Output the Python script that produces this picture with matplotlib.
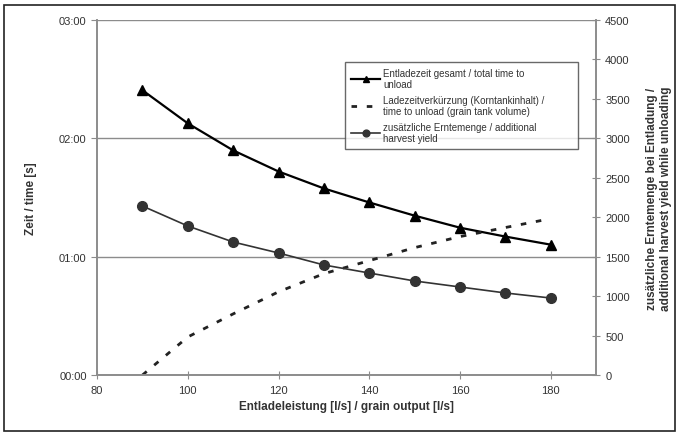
import matplotlib
matplotlib.use("Agg")
import matplotlib.pyplot as plt
from matplotlib.ticker import FuncFormatter, MultipleLocator
from matplotlib.patches import Rectangle

plt.rcParams['font.family'] = ['Liberation Sans', 'DejaVu Sans']

# grain output [l/s]
output = [90, 100, 110, 120, 130, 140, 150, 160, 170, 180]
# total time to unload [s]
total_time = [144.4, 127.6, 113.9, 103.2, 94.6, 87.5, 80.8, 74.7, 70.2, 66.1]
# time saving vs. 90 l/s [s]
time_saving = [0.0, 19.3, 31.0, 42.2, 51.4, 58.0, 64.6, 70.2, 74.8, 79.3]
# additional harvest yield while unloading
extra_yield = [2142, 1889, 1686, 1547, 1395, 1293, 1192, 1116, 1040, 976]

lbl_total = "Entladezeit gesamt / total time to\nunload"
lbl_saving = "Ladezeitverkürzung (Korntankinhalt) /\ntime to unload (grain tank volume)"
lbl_yield = "zusätzliche Erntemenge / additional\nharvest yield"

grey = '#8c8c8c'
txt = '#333333'

fig = plt.figure(figsize=(6.79, 4.35), dpi=100)
ax = fig.add_axes([0.143, 0.1356, 0.735, 0.816])
ax2 = ax.twinx()

l1, = ax.plot(output, total_time, color='black', lw=1.6, marker='^', ms=7, label=lbl_total)
l2, = ax.plot(output, time_saving, color='#222222', lw=2, linestyle=(0, (2, 3.5)), label=lbl_saving)
l3, = ax2.plot(output, extra_yield, color='#333333', lw=1.2, marker='o', ms=7, label=lbl_yield)

ax.set_xlim(80, 190)
ax.set_ylim(0, 180)
ax2.set_ylim(0, 4500)
ax.set_xticks([80, 100, 120, 140, 160, 180])
ax.yaxis.set_major_locator(MultipleLocator(60))
ax2.yaxis.set_major_locator(MultipleLocator(500))
ax.yaxis.set_major_formatter(FuncFormatter(lambda v, p: "%02d:%02d" % (int(v) // 60, int(v) % 60)))

ax.yaxis.grid(True, color=grey, lw=1)
ax.set_axisbelow(True)

for a in (ax, ax2):
    for s in a.spines.values():
        s.set_color(grey)
        s.set_linewidth(1.2)
    a.spines['top'].set_visible(False)
ax.tick_params(axis='x', direction='inout', length=6, color=grey, labelsize=8, labelcolor=txt, pad=4)
ax.tick_params(axis='y', direction='out', length=4, color=grey, labelsize=8, labelcolor=txt)
ax2.tick_params(axis='y', direction='inout', length=6, color=grey, labelsize=8, labelcolor=txt)

ax.set_xlabel("Entladeleistung [l/s] / grain output [l/s]", fontsize=8.5, fontweight='bold', color=txt)
ax.set_ylabel("Zeit / time [s]", fontsize=8.5, fontweight='bold', color=txt, labelpad=16)
ax2.set_ylabel("zusätzliche Erntemenge bei Entladung /\nadditional harvest yield while unloading",
               fontsize=8.5, fontweight='bold', color=txt, rotation=90, labelpad=12)

leg = ax2.legend(handles=[l1, l2, l3], loc='upper left', bbox_to_anchor=(0.497, 0.614, 0.467, 0.268),
                 mode='expand', fontsize=7, frameon=True, fancybox=False, handlelength=3,
                 markerscale=0.7, borderpad=0.6, labelspacing=0.55, handletextpad=0.3,
                 borderaxespad=0)
leg.get_frame().set_edgecolor('#444444')
leg.get_frame().set_linewidth(1)
for t in leg.get_texts():
    t.set_color(txt)

fig.patches.append(Rectangle((0.006, 0.008), 0.988, 0.978, transform=fig.transFigure,
                             fill=False, edgecolor='#222222', lw=1.2))

fig.savefig("out.png", dpi=100)
